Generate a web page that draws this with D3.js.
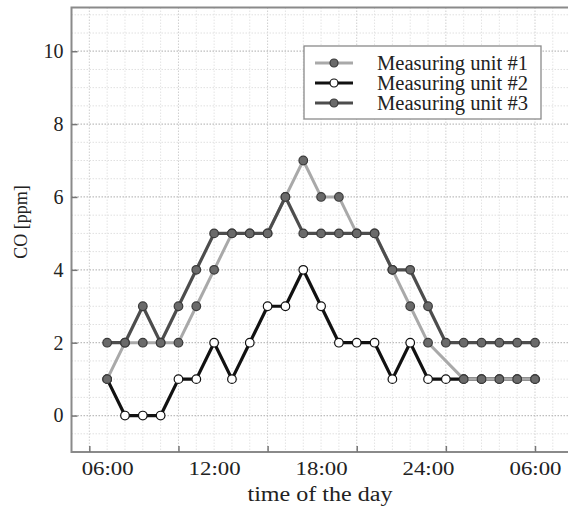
<!DOCTYPE html>
<html>
<head>
<meta charset="utf-8">
<script src="https://cdn.jsdelivr.net/npm/d3@7"></script>
<style>
  body { margin: 0; background: #fff; }
  svg text { font-family: "Liberation Serif", "Times New Roman", Times, serif !important; fill: #222; }
</style>
</head>
<body>
<div id="chart"></div>
<script>
const width = 568;
const height = 509;

// hourly samples, index 0 = 06:00 ... index 24 = 06:00 next day
const hours = d3.range(0, 25);
const unit1 = [1, 2, 2, 2, 2, 3, 4, 5, 5, 5, 6, 7, 6, 6, 5, 5, 4, 3, 2, null, 1, 1, 1, 1, 1];
const unit2 = [1, 0, 0, 0, 1, 1, 2, 1, 2, 3, 3, 4, 3, 2, 2, 2, 1, 2, 1, 1, 1, 1, 1, 1, 1];
const unit3 = [2, 2, 3, 2, 3, 4, 5, 5, 5, 5, 6, 5, 5, 5, 5, 5, 4, 4, 3, 2, 2, 2, 2, 2, 2];

const seriesNames = ["Measuring unit #1", "Measuring unit #2", "Measuring unit #3"];
const xTickLabels = ["06:00", "12:00", "18:00", "24:00", "06:00"];
const xLabelIndex = [0, 6, 12, 18, 24];
const xTickIndex = [-1, 4, 9, 14, 19, 24];
const yTicks = [0, 2, 4, 6, 8, 10];

const styles = [
    { line: "#a9a9a9", lw: 3, fill: "#6a6a6a", stroke: "#3a3a3a" },
    { line: "#111", lw: 3.2, fill: "#fff", stroke: "#111" },
    { line: "#4d4d4d", lw: 3.2, fill: "#6a6a6a", stroke: "#3a3a3a" }
];

const FONT = "Liberation Serif, Times New Roman, serif";

const svg = d3.select("#chart")
    .append("svg")
    .attr("width", width)
    .attr("height", height)
    .attr("font-family", FONT);

const plotLeft = 71.5, plotTop = 7.5, plotBottom = 452;

const x = d3.scaleLinear().domain([-2, 24]).range([plotLeft, 535]);
const y = d3.scaleLinear().domain([-1, 11.2]).range([plotBottom, plotTop]);
const plotRight = x(27);

// grid
const grid = svg.append("g");
grid.selectAll(".vg")
    .data(d3.range(-1, 27))
    .enter().append("line")
    .attr("x1", d => x(d)).attr("x2", d => x(d))
    .attr("y1", plotTop).attr("y2", plotBottom)
    .attr("stroke", d => xTickIndex.includes(d) ? "#cfcfcf" : "#e4e4e4")
    .attr("stroke-width", 1)
    .attr("stroke-dasharray", "1.5,1.5");
grid.selectAll(".hg")
    .data(d3.range(-0.5, 11.01, 0.5))
    .enter().append("line")
    .attr("x1", plotLeft).attr("x2", plotRight)
    .attr("y1", d => y(d)).attr("y2", d => y(d))
    .attr("stroke", d => yTicks.includes(d) ? "#bdbdbd" : "#e0e0e0")
    .attr("stroke-width", d => yTicks.includes(d) ? 1.3 : 1)
    .attr("stroke-dasharray", "1.5,1.5");

// frame
svg.append("path")
    .attr("d", `M${plotRight},${plotTop}H${plotLeft}V${plotBottom}H${plotRight}`)
    .attr("fill", "none")
    .attr("stroke", "#8a8a8a")
    .attr("stroke-width", 2);

// x ticks (inward)
const xAxis = svg.append("g")
    .attr("transform", `translate(0,${plotBottom})`)
    .call(d3.axisBottom(x).tickValues(xTickIndex).tickSizeInner(-6).tickSizeOuter(0).tickFormat(""));
xAxis.select(".domain").remove();
xAxis.selectAll("line").attr("stroke", "#777").attr("stroke-width", 1.5);

const xLabels = svg.append("g")
    .attr("transform", `translate(0,${plotBottom})`)
    .call(d3.axisBottom(x).tickValues(xLabelIndex).tickSize(0).tickPadding(10)
        .tickFormat((d, i) => xTickLabels[i]));
xLabels.attr("font-family", FONT);
xLabels.select(".domain").remove();
xLabels.selectAll("text")
    .attr("font-size", 19)
    .attr("textLength", 52)
    .attr("lengthAdjust", "spacingAndGlyphs")
    .attr("fill", "#222");

// y axis
const yAxis = svg.append("g")
    .attr("transform", `translate(${plotLeft},0)`)
    .call(d3.axisLeft(y).tickValues(yTicks).tickSizeInner(-6).tickSizeOuter(0).tickPadding(8));
yAxis.attr("font-family", FONT);
yAxis.select(".domain").remove();
yAxis.selectAll("line").attr("stroke", "#777").attr("stroke-width", 1.5);
yAxis.selectAll("text").attr("font-size", 20).attr("fill", "#222");

// axis titles
svg.append("text")
    .attr("x", 320).attr("y", 501)
    .attr("text-anchor", "middle")
    .attr("font-size", 20)
    .attr("textLength", 145)
    .attr("lengthAdjust", "spacingAndGlyphs")
    .text("time of the day");

svg.append("text")
    .attr("transform", "translate(27,222) rotate(-90)")
    .attr("text-anchor", "middle")
    .attr("font-size", 18)
    .text("CO [ppm]");

// series
const series = [unit1, unit2, unit3];
const drawOrder = [1, 0, 2];
const line = d3.line().x(d => x(d.h)).y(d => y(d.v));

drawOrder.forEach(k => {
    const pts = hours.map((h, i) => ({ h: h, v: series[k][i] })).filter(d => d.v !== null);
    const s = styles[k];
    const g = svg.append("g");
    g.append("path")
        .datum(pts)
        .attr("d", line)
        .attr("fill", "none")
        .attr("stroke", s.line)
        .attr("stroke-width", s.lw)
        .attr("stroke-linejoin", "round");
    g.selectAll("circle")
        .data(pts)
        .enter().append("circle")
        .attr("cx", d => x(d.h))
        .attr("cy", d => y(d.v))
        .attr("r", 4.3)
        .attr("fill", s.fill)
        .attr("stroke", s.stroke)
        .attr("stroke-width", 1.2);
});

// legend
const legend = svg.append("g").attr("transform", "translate(304,46)");
legend.append("rect")
    .attr("width", 237).attr("height", 73)
    .attr("fill", "#fff")
    .attr("stroke", "#8a8a8a")
    .attr("stroke-width", 1.3);
seriesNames.forEach((name, k) => {
    const s = styles[k];
    const cy = 17 + k * 20;
    legend.append("line")
        .attr("x1", 11).attr("x2", 49)
        .attr("y1", cy).attr("y2", cy)
        .attr("stroke", s.line)
        .attr("stroke-width", s.lw);
    legend.append("circle")
        .attr("cx", 30).attr("cy", cy).attr("r", 4)
        .attr("fill", s.fill)
        .attr("stroke", s.stroke)
        .attr("stroke-width", 1.2);
    legend.append("text")
        .attr("x", 73).attr("y", cy + 6.5)
        .attr("font-size", 20)
        .attr("textLength", 151)
        .attr("lengthAdjust", "spacingAndGlyphs")
        .text(name);
});
</script>
</body>
</html>
